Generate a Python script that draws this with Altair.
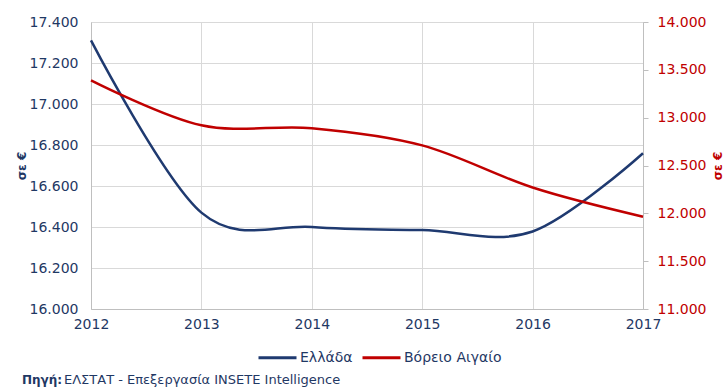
import altair as alt
import pandas as pd

years = [2012, 2013, 2014, 2015, 2016, 2017]
greece = [17310, 16470, 16400, 16385, 16378, 16760]
north_aegean = [13390, 12920, 12890, 12710, 12270, 11965]
series_names = ["Ελλάδα", "Βόρειο Αιγαίο"]
left_ticks = [16000, 16200, 16400, 16600, 16800, 17000, 17200, 17400]
right_ticks = [11000, 11500, 12000, 12500, 13000, 13500, 14000]
axis_title = "σε €"
source_bold = "Πηγή:"
source_text = "ΕΛΣΤΑΤ - Επεξεργασία INSETE  Intelligence"

NAVY = "#1F3864"
RED = "#C00000"
LINE_BLUE = "#1F3A70"
GRID = "#D9D9D9"
FONT = "DejaVu Sans"

df = pd.DataFrame({
    "year": years * 2,
    "value": greece + north_aegean,
    "series": [series_names[0]] * len(years) + [series_names[1]] * len(years),
})

fmt = "replace(format(datum.value, ',.0f'), ',', '.')"

color = alt.Color(
    "series:N",
    scale=alt.Scale(domain=series_names, range=[LINE_BLUE, RED]),
    legend=alt.Legend(
        title=None, orient="none", direction="horizontal",
        legendX=166, legendY=315,
        symbolType="stroke", symbolStrokeWidth=3, symbolSize=1444,
        labelFont=FONT, labelFontSize=14, labelColor=NAVY,
        labelOffset=2, columnPadding=3,
    ),
)

x = alt.X(
    "year:Q",
    scale=alt.Scale(domain=[2012, 2017], nice=False, zero=False),
    axis=alt.Axis(values=years, format="d", title=None, grid=True, gridColor=GRID,
                  ticks=False, domainColor="#BFBFBF", labelColor=NAVY, labelFlush=False,
                  labelFont=FONT, labelFontSize=14, labelPadding=8),
)

base = alt.Chart(df)

left = base.transform_filter(alt.datum.series == series_names[0]).mark_line(
    interpolate="cardinal", strokeWidth=2.5
).encode(
    x=x,
    y=alt.Y("value:Q", scale=alt.Scale(domain=[16000, 17400], nice=False, zero=False),
            axis=alt.Axis(values=left_ticks, labelExpr=fmt, title=axis_title,
                          titleAngle=270, titleColor=NAVY, titleFont=FONT, titleFontSize=12,
                          titleFontWeight="bold", titlePadding=1,
                          grid=True, gridColor=GRID, ticks=False, domainColor="#BFBFBF",
                          labelColor=NAVY, labelFont=FONT, labelFontSize=14, labelPadding=13)),
    color=color,
)

right = base.transform_filter(alt.datum.series == series_names[1]).mark_line(
    interpolate="cardinal", strokeWidth=2.5
).encode(
    x=x,
    y=alt.Y("value:Q", scale=alt.Scale(domain=[11000, 14000], nice=False, zero=False),
            axis=alt.Axis(orient="right", values=right_ticks, labelExpr=fmt, title=axis_title,
                          titleAngle=270, titleColor=RED, titleFont=FONT, titleFontSize=12,
                          titleFontWeight="bold", titlePadding=19,
                          grid=False, ticks=True, tickSize=5, tickColor="#BFBFBF",
                          domainColor="#BFBFBF",
                          labelColor=RED, labelFont=FONT, labelFontSize=14, labelPadding=9)),
    color=color,
)

src1 = alt.Chart(pd.DataFrame({"t": [source_bold]})).mark_text(
    align="left", baseline="alphabetic", font=FONT, fontSize=12, fontWeight="bold", color=NAVY
).encode(text="t:N", x=alt.value(-69), y=alt.value(362))

src2 = alt.Chart(pd.DataFrame({"t": [source_text]})).mark_text(
    align="left", baseline="alphabetic", font=FONT, fontSize=13, color=NAVY
).encode(text="t:N", x=alt.value(-27), y=alt.value(362))

chart = alt.layer(left, right, src1, src2).resolve_scale(y="independent").properties(
    width=552, height=287,
    padding={"left": 91, "top": 22, "right": 84, "bottom": 78},
    autosize=alt.AutoSizeParams(type="none"),
).configure_view(stroke=None).configure(background="white")

chart.save("out.html", embed_options={"renderer": "svg", "actions": False})
